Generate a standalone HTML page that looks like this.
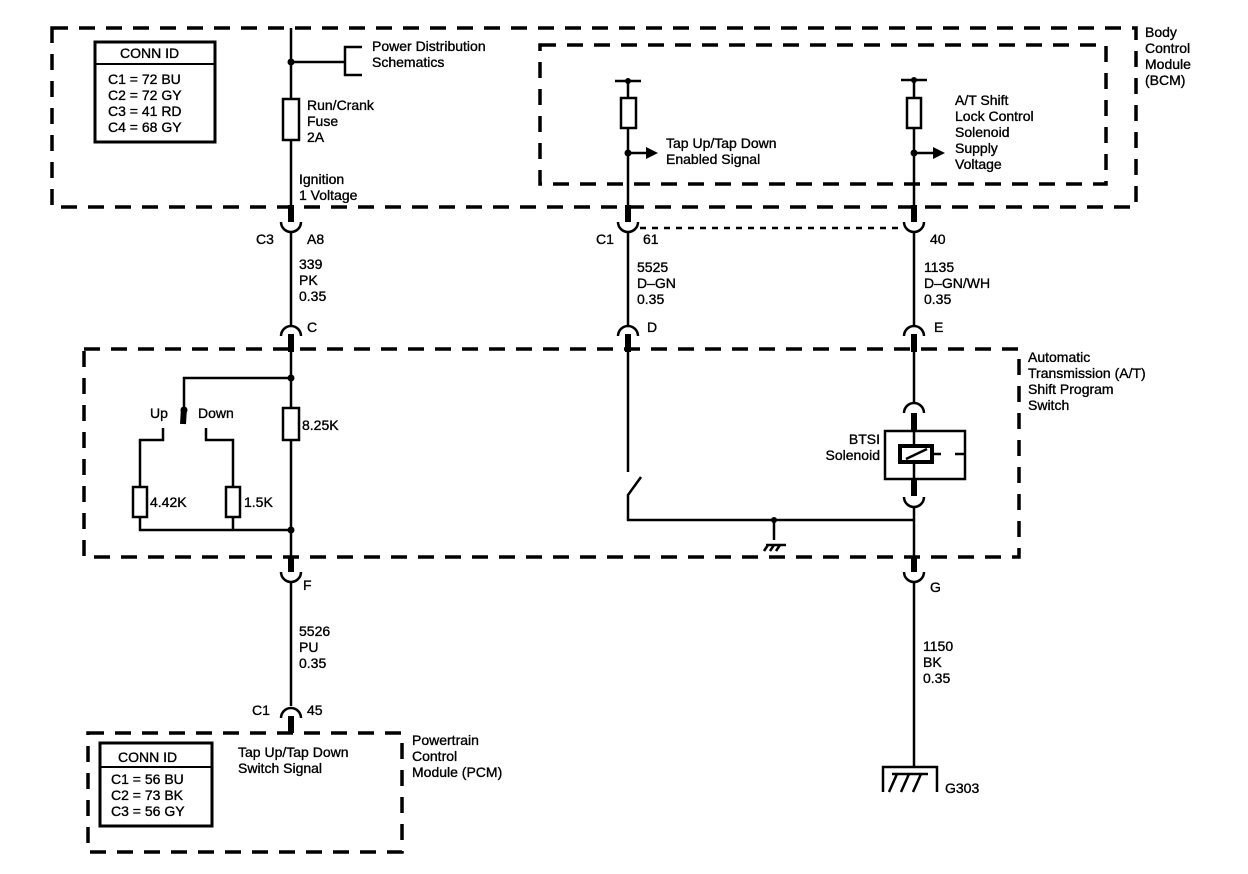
<!DOCTYPE html>
<html><head><meta charset="utf-8"><style>
html,body{margin:0;padding:0;background:#fff;}
svg{display:block;}
text{font-family:"Liberation Sans",Arial,sans-serif;font-size:14px;fill:#000;stroke:#000;stroke-width:0.35px;}
</style></head><body>
<svg width="1248" height="874" viewBox="0 0 1248 874" xmlns="http://www.w3.org/2000/svg">
<g fill="none" stroke="#000">
<g stroke-width="3.5" stroke-dasharray="16,11">
<rect x="52" y="28" width="1084" height="179"/>
<rect x="540" y="45" width="566" height="139"/>
<rect x="84" y="349" width="935" height="208"/>
<rect x="88" y="733" width="314" height="119"/>
</g>
<line x1="640" y1="228" x2="904" y2="228" stroke-width="2.5" stroke-dasharray="6,6"/>
<rect x="95" y="42" width="120" height="100" stroke-width="3"/>
<line x1="95" y1="64" x2="215" y2="64" stroke-width="2"/>
<rect x="100" y="743" width="112" height="83" stroke-width="3"/>
<line x1="100" y1="767" x2="212" y2="767" stroke-width="2"/>

<g stroke-width="2.5">
<line x1="291" y1="28" x2="291" y2="99"/>
<line x1="291" y1="140" x2="291" y2="222"/>
<line x1="291" y1="62" x2="345" y2="62"/>
<path d="M362 47 H345 V75 H362"/>
<rect x="283" y="99" width="16" height="41"/>
<path d="M281 222 A10 10 0 0 0 301 222"/>
<line x1="291" y1="232" x2="291" y2="325"/>
<path d="M281 336 A10 10 0 0 1 301 336"/>
<line x1="291" y1="336" x2="291" y2="408"/>
<rect x="283" y="408" width="16" height="32"/>
<line x1="291" y1="440" x2="291" y2="572"/>
<path d="M184 410 V378 H291"/>
<path d="M163 428 V440 H140 V487"/>
<path d="M206 428 V440 H233 V487"/>
<rect x="133" y="487" width="14" height="30"/>
<rect x="226" y="487" width="14" height="30"/>
<path d="M140 517 V530 H291"/>
<line x1="233" y1="517" x2="233" y2="530"/>
<path d="M281 572 A10 10 0 0 0 301 572"/>
<line x1="291" y1="582" x2="291" y2="706"/>
<path d="M281 718 A10 10 0 0 1 301 718"/>
<line x1="615" y1="81" x2="641" y2="81"/>
<line x1="628" y1="81" x2="628" y2="98"/>
<rect x="621" y="98" width="15" height="30"/>
<line x1="628" y1="128" x2="628" y2="222"/>
<line x1="628" y1="153" x2="648" y2="153"/>
<path d="M618 222 A10 10 0 0 0 638 222"/>
<line x1="628" y1="232" x2="628" y2="325"/>
<path d="M618 336 A10 10 0 0 1 638 336"/>
<line x1="628" y1="336" x2="628" y2="472"/>
<path d="M641 477 L628 495 V520 H914"/>
<line x1="774" y1="520" x2="774" y2="540"/>
<path d="M766 545 H786 M768 545 L764 551 M774 545 L770 551 M780 545 L776 551"/>
<line x1="901" y1="80" x2="927" y2="80"/>
<line x1="914" y1="80" x2="914" y2="98"/>
<rect x="907" y="98" width="14" height="30"/>
<line x1="914" y1="128" x2="914" y2="222"/>
<line x1="914" y1="153" x2="935" y2="153"/>
<path d="M904 222 A10 10 0 0 0 924 222"/>
<line x1="914" y1="232" x2="914" y2="325"/>
<path d="M904 336 A10 10 0 0 1 924 336"/>
<line x1="914" y1="336" x2="914" y2="402"/>
<path d="M904 413 A10 10 0 0 1 924 413"/>
<rect x="885" y="431" width="80" height="48"/>
<line x1="914" y1="413" x2="914" y2="445"/>
<line x1="914" y1="463" x2="914" y2="495"/>
<path d="M904 497 A10 10 0 0 0 924 497"/>
<line x1="914" y1="507" x2="914" y2="572"/>
<path d="M904 572 A10 10 0 0 0 924 572"/>
<line x1="914" y1="582" x2="914" y2="767"/>
<line x1="932" y1="454" x2="941" y2="454"/>
<line x1="955" y1="454" x2="965" y2="454"/>
<path d="M883 792 V767 H937 V792"/>
<path d="M889 792 L897 774 M901 792 L909 774 M913 792 L921 774 M892 774 H928"/>
</g>
<rect x="900" y="446" width="32" height="16" stroke-width="4"/>
<line x1="906" y1="459" x2="927" y2="449" stroke-width="2.5"/>
<g stroke-width="6">
<line x1="291" y1="205" x2="291" y2="222"/>
<line x1="628" y1="205" x2="628" y2="222"/>
<line x1="914" y1="205" x2="914" y2="222"/>
<line x1="291" y1="334" x2="291" y2="352"/>
<line x1="628" y1="334" x2="628" y2="352"/>
<line x1="914" y1="334" x2="914" y2="352"/>
<line x1="914" y1="413" x2="914" y2="430"/>
<line x1="914" y1="480" x2="914" y2="496"/>
<line x1="291" y1="556" x2="291" y2="572"/>
<line x1="914" y1="556" x2="914" y2="572"/>
<line x1="291" y1="716" x2="291" y2="733"/>
<line x1="184" y1="408" x2="183" y2="424"/>
</g>
</g>
<g fill="#000">
<circle cx="291" cy="62" r="3.5"/>
<circle cx="628" cy="153" r="3.5"/>
<circle cx="914" cy="153" r="3.5"/>
<circle cx="628" cy="81" r="3"/>
<circle cx="914" cy="80" r="3"/>
<circle cx="291" cy="378" r="3.5"/>
<circle cx="291" cy="530" r="3.5"/>
<circle cx="184" cy="410" r="3.5"/>
<circle cx="774" cy="520" r="3"/>
<polygon points="646,147 658,153 646,159"/>
<polygon points="933,147 945,153 933,159"/>
</g>
<text x="120" y="58">CONN ID</text>
<text x="108" y="84">C1 = 72 BU</text>
<text x="108" y="100">C2 = 72 GY</text>
<text x="108" y="116">C3 = 41 RD</text>
<text x="108" y="132">C4 = 68 GY</text>
<text x="372" y="51">Power Distribution</text>
<text x="372" y="67">Schematics</text>
<text x="307" y="110">Run/Crank</text>
<text x="307" y="126">Fuse</text>
<text x="307" y="142">2A</text>
<text x="299" y="184">Ignition</text>
<text x="299" y="200">1 Voltage</text>
<text x="256" y="244">C3</text>
<text x="307" y="244">A8</text>
<text x="299" y="269">339</text>
<text x="299" y="285">PK</text>
<text x="299" y="301">0.35</text>
<text x="307" y="332">C</text>
<text x="150" y="418">Up</text>
<text x="198" y="418">Down</text>
<text x="302" y="430">8.25K</text>
<text x="150" y="507">4.42K</text>
<text x="244" y="507">1.5K</text>
<text x="303" y="590">F</text>
<text x="299" y="636">5526</text>
<text x="299" y="652">PU</text>
<text x="299" y="668">0.35</text>
<text x="252" y="715">C1</text>
<text x="307" y="715">45</text>
<text x="118" y="762">CONN ID</text>
<text x="111" y="784">C1 = 56 BU</text>
<text x="111" y="800">C2 = 73 BK</text>
<text x="111" y="816">C3 = 56 GY</text>
<text x="238" y="757">Tap Up/Tap Down</text>
<text x="238" y="773">Switch Signal</text>
<text x="412" y="745">Powertrain</text>
<text x="412" y="761">Control</text>
<text x="412" y="777">Module (PCM)</text>
<text x="666" y="148">Tap Up/Tap Down</text>
<text x="666" y="164">Enabled Signal</text>
<text x="596" y="244">C1</text>
<text x="643" y="244">61</text>
<text x="637" y="272">5525</text>
<text x="637" y="288">D–GN</text>
<text x="637" y="304">0.35</text>
<text x="647" y="332">D</text>
<text x="955" y="105">A/T Shift</text>
<text x="955" y="121">Lock Control</text>
<text x="955" y="137">Solenoid</text>
<text x="955" y="153">Supply</text>
<text x="955" y="169">Voltage</text>
<text x="1145" y="37">Body</text>
<text x="1145" y="53">Control</text>
<text x="1145" y="69">Module</text>
<text x="1145" y="85">(BCM)</text>
<text x="930" y="244">40</text>
<text x="924" y="272">1135</text>
<text x="924" y="288">D–GN/WH</text>
<text x="924" y="304">0.35</text>
<text x="934" y="332">E</text>
<text x="1028" y="362">Automatic</text>
<text x="1028" y="378">Transmission (A/T)</text>
<text x="1028" y="394">Shift Program</text>
<text x="1028" y="410">Switch</text>
<text x="880" y="444" text-anchor="end">BTSI</text>
<text x="880" y="460" text-anchor="end">Solenoid</text>
<text x="930" y="592">G</text>
<text x="923" y="651">1150</text>
<text x="923" y="667">BK</text>
<text x="923" y="683">0.35</text>
<text x="945" y="793">G303</text>
</svg>
</body></html>
